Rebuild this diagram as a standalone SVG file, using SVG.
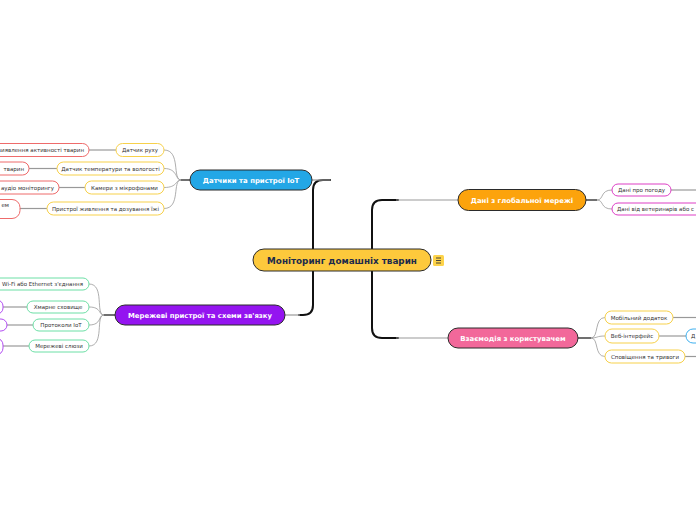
<svg xmlns="http://www.w3.org/2000/svg" width="696" height="520" viewBox="0 0 696 520">
<style>
text{font-family:"DejaVu Sans","Liberation Sans",sans-serif;}
.main{stroke:#2b2b2b;stroke-width:1}
.mt{fill:#fff;font-weight:bold;font-size:6.9px;text-anchor:middle}
.ch{fill:#fff;stroke-width:1}
.ct{fill:#333;font-size:5.5px;text-anchor:middle}
.ce{fill:#333;font-size:5.5px;text-anchor:end}
.cs{fill:#333;font-size:5.5px;text-anchor:start}
.y{stroke:#f7d14b}.r{stroke:#ee6b6b}.g{stroke:#6ddfa6}.p{stroke:#b24cf2}.m{stroke:#dd3fc5}.b{stroke:#3fb0ef}
.trunk{fill:none;stroke:#111;stroke-width:2;stroke-linecap:round}
.stub{fill:none;stroke:#333;stroke-width:1.4}
.thin{fill:none;stroke:#999;stroke-width:0.8}
.line{fill:none;stroke:#999;stroke-width:1.2}
</style>
<rect width="696" height="520" fill="#fff"/>
<g id="connectors">
  <path class="trunk" d="M313,258 L313,190 Q313,180 323,180 L330,180"/>
  <path class="line" d="M312,180 L330,180"/>
  <path class="trunk" d="M313,262 L313,305 Q313,315 303,315 L299,315"/>
  <path class="line" d="M285,315 L300,315"/>
  <path class="trunk" d="M372,258 L372,210 Q372,200 382,200 L398,200"/>
  <path class="line" d="M396,200 L458,200"/>
  <path class="trunk" d="M372,262 L372,328 Q372,338 382,338 L398,338"/>
  <path class="line" d="M396,338 L448,338"/>
  <path class="stub" d="M190,180 L181,180"/>
  <path class="thin" d="M181,180 C172,180 181,150 164,150"/>
  <path class="thin" d="M181,180 C175,180 178,168.5 164,168.5"/>
  <path class="thin" d="M181,180 C175,180 178,187.5 164,187.5"/>
  <path class="thin" d="M181,180 C172,180 181,208.5 164,208.5"/>
  <path class="line" d="M89,150 L116,150"/>
  <path class="line" d="M29,168.5 L57,168.5"/>
  <path class="line" d="M59,187.5 L85,187.5"/>
  <path class="line" d="M20,208.5 L47,208.5"/>
  <path class="stub" d="M115,315 L104,315"/>
  <path class="thin" d="M104,315 C95,315 105,284 89,284"/>
  <path class="thin" d="M104,315 C98,315 102,307 89,307"/>
  <path class="thin" d="M104,315 C98,315 102,325 89,325"/>
  <path class="thin" d="M104,315 C95,315 105,346 89,346"/>
  <path class="line" d="M3,307 L27,307"/>
  <path class="line" d="M7,325 L33,325"/>
  <path class="line" d="M3,346 L29,346"/>
  <path class="stub" d="M586,200 L597,200"/>
  <path class="thin" d="M597,200 C604,200 600,190 612,190"/>
  <path class="thin" d="M597,200 C604,200 600,209 612,209"/>
  <path class="line" d="M671,190 L696,190"/>
  <path class="stub" d="M578,338 L591,338"/>
  <path class="thin" d="M591,338 C599,338 594,317.5 605,317.5"/>
  <path class="thin" d="M591,338 C598,338 596,336 605,336"/>
  <path class="thin" d="M591,338 C599,338 594,356.5 605,356.5"/>
  <path class="line" d="M673,317.5 L696,317.5"/>
  <path class="line" d="M659,336 L686,336"/>
  <path class="line" d="M685,356.5 L696,356.5"/>
</g>
<g id="root">
  <rect x="253" y="249" width="178" height="22" rx="11" fill="#fdc93c" stroke="#2b2b2b" stroke-width="1"/>
  <text x="342" y="263.5" font-size="8.8" font-weight="bold" fill="#1c2b4b" text-anchor="middle">Моніторинг домашніх тварин</text>
  <rect x="433" y="255" width="11" height="11" rx="1.5" fill="#fdd34a"/>
  <path d="M436,258 h5 M436,260.5 h5 M436,263 h5" stroke="#333" stroke-width="0.9"/>
</g>
<g id="n-sensors">
  <rect class="main" x="190" y="170" width="122" height="20" rx="10" fill="#23a7e6"/>
  <text class="mt" x="251" y="182.5">Датчики та пристрої IoT</text>
</g>
<g id="n-network">
  <rect class="main" x="115" y="305" width="170" height="20" rx="10" fill="#9414f0"/>
  <text class="mt" x="200" y="317.5">Мережеві пристрої та схеми зв'язку</text>
</g>
<g id="n-global">
  <rect class="main" x="458" y="189.5" width="128" height="21" rx="10.5" fill="#fca30c"/>
  <text class="mt" x="522" y="202.5">Дані з глобальної мережі</text>
</g>
<g id="n-user">
  <rect class="main" x="448" y="328" width="130" height="20" rx="10" fill="#f2689a"/>
  <text class="mt" x="513" y="340.5">Взаємодія з користувачем</text>
</g>
<g id="c-motion"><rect class="ch y" x="116" y="143.5" width="48" height="13" rx="6.5"/><text class="ct" x="140" y="152">Датчик руху</text></g>
<g id="c-temp"><rect class="ch y" x="57" y="162" width="107" height="13" rx="6.5"/><text class="ct" x="110.5" y="170.5">Датчик температури та вологості</text></g>
<g id="c-cam"><rect class="ch y" x="85" y="181" width="79" height="13" rx="6.5"/><text class="ct" x="124.5" y="189.5">Камери з мікрофонами</text></g>
<g id="c-feed"><rect class="ch y" x="47" y="202" width="117" height="13" rx="6.5"/><text class="ct" x="105.5" y="210.5">Пристрої живлення та дозування їжі</text></g>
<g id="g-activity"><rect class="ch r" x="-70" y="143.5" width="159" height="13" rx="6.5"/><text class="ce" x="84" y="152">виявлення активності тварин</text></g>
<g id="g-temp"><rect class="ch r" x="-70" y="162" width="99" height="13" rx="6.5"/><text class="ce" x="24" y="170.5">тварин</text></g>
<g id="g-audio"><rect class="ch r" x="-70" y="181" width="129" height="13" rx="6.5"/><text class="ce" x="54" y="189.5">аудіо моніторингу</text></g>
<g id="g-feed"><rect class="ch r" x="-50" y="199.5" width="70" height="19" rx="8"/><text class="ce" x="9" y="207">ем</text></g>
<g id="c-wifi"><rect class="ch g" x="-30" y="278" width="119" height="12" rx="6"/><text class="ce" x="83" y="286">Wi-Fi або Ethernet з'єднання</text></g>
<g id="c-cloud"><rect class="ch g" x="27" y="301" width="62" height="12" rx="6"/><text class="ct" x="58" y="309">Хмарне сховище</text></g>
<g id="c-proto"><rect class="ch g" x="33" y="319" width="56" height="12" rx="6"/><text class="ct" x="61" y="327">Протоколи IoT</text></g>
<g id="c-gw"><rect class="ch g" x="29" y="340" width="60" height="12" rx="6"/><text class="ct" x="59" y="348">Мережеві слюзи</text></g>
<g id="g-cloud"><rect class="ch p" x="-20" y="300" width="23" height="14" rx="6"/></g>
<g id="g-proto"><rect class="ch p" x="-20" y="319" width="27" height="12" rx="6"/></g>
<g id="g-gw"><rect class="ch p" x="-20" y="338" width="23" height="17" rx="7"/></g>
<g id="c-weather"><rect class="ch m" x="612" y="184" width="59" height="12" rx="6"/><text class="ct" x="641.5" y="192">Дані про погоду</text></g>
<g id="c-vet"><rect class="ch m" x="612" y="203" width="110" height="12" rx="6"/><text class="cs" x="617" y="211">Дані від ветеринарів або с</text></g>
<g id="c-mobile"><rect class="ch y" x="605" y="311" width="68" height="13" rx="6.5"/><text class="ct" x="639" y="319.5">Мобільний додаток</text></g>
<g id="c-web"><rect class="ch y" x="605" y="329" width="54" height="14" rx="7"/><text class="ct" x="632" y="338">Веб-інтерфейс</text></g>
<g id="c-notify"><rect class="ch y" x="605" y="350" width="80" height="13" rx="6.5"/><text class="ct" x="645" y="358.5">Сповіщення та тривоги</text></g>
<g id="g-web"><rect class="ch b" x="686" y="329" width="40" height="14" rx="7"/><text class="cs" x="691" y="338">Д</text></g>
</svg>
